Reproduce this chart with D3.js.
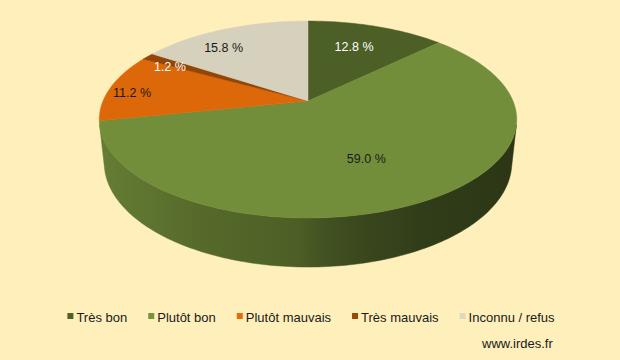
<!DOCTYPE html>
<html>
<head>
<meta charset="utf-8">
<script src="https://cdn.jsdelivr.net/npm/d3@7"></script>
<style>
  body { margin: 0; background: #ffefbb; }
  svg { display: block; }
</style>
</head>
<body>
<svg id="chart" width="620" height="360"></svg>
<script>
// data
const categories = ["Très bon", "Plutôt bon", "Plutôt mauvais", "Très mauvais", "Inconnu / refus"];
const shares = [12.8, 59.0, 11.2, 1.2, 15.8];
const colors = ["#4f6228", "#77933c", "#e46c0a", "#984807", "#ddd9c3"];
const labelColors = ["#ffffff", "#1a1a1a", "#1a1a1a", "#ffffff", "#1a1a1a"];

// where each value label sits, in pie space (degrees from top, radius fraction)
const labelAngle = [21.4, 154.8, 275.6, 298, 324];
const labelRadius = [0.69, 0.6, 0.876, 0.818, 0.784];

// side wall shading, left to right (offset, brightness)
const sideShade = [[0, 0.88], [0.24, 0.75], [0.48, 0.66], [0.52, 0.6], [0.6, 0.52], [0.77, 0.43], [1, 0.38]];

const svg = d3.select("#chart");
const width = +svg.attr("width");
const height = +svg.attr("height");

svg.append("rect").attr("width", width).attr("height", height).attr("fill", "#ffefbb");

// simple perspective camera for the 3D pie
const cx = 308, cy = 101;
const focal = 967, dist = 4.717;
const tilt = 27.6 * Math.PI / 180;
const sa = Math.sin(tilt), ca = Math.cos(tilt);
const thick = 0.241;

function proj(r, a, h) {
    const u = r * Math.sin(a), v = -r * Math.cos(a);
    const yc = v * sa + h * ca;
    const zc = dist - v * ca + h * sa;
    return [cx + focal * u / zc, cy + focal * yc / zc];
}

const pie = d3.pie().sort(null).value(d => d);
const arcs = pie(shares);
const line = d3.line();
const step = Math.PI / 180;

function shade(c, f) {
    const col = d3.rgb(c);
    return d3.rgb(col.r * f, col.g * f, col.b * f).toString();
}

function arcPoints(a0, a1, r, h) {
    const n = Math.max(2, Math.ceil(Math.abs(a1 - a0) / step));
    return d3.range(n + 1).map(k => proj(r, a0 + (a1 - a0) * k / n, h));
}

// gradients for the side wall
const leftX = proj(1, 1.5 * Math.PI, 0)[0] - 4;
const rightX = proj(1, 0.5 * Math.PI, 0)[0] + 4;
const defs = svg.append("defs");
colors.forEach((c, i) => {
    const g = defs.append("linearGradient")
        .attr("id", "side" + i)
        .attr("gradientUnits", "userSpaceOnUse")
        .attr("x1", leftX).attr("x2", rightX)
        .attr("y1", 0).attr("y2", 0);
    sideShade.forEach(s => {
        g.append("stop")
            .attr("offset", s[0])
            .attr("stop-color", shade(d3.color(c).darker(0.1), s[1]));
    });
});

// side wall: only the part facing the camera is visible
const half = Math.acos(1 / (dist * ca));
const frontStart = Math.PI - half, frontEnd = Math.PI + half;
const front = arcs.map((d, i) => ({
    i: i,
    a0: Math.max(d.startAngle, frontStart),
    a1: Math.min(d.endAngle, frontEnd)
})).filter(d => d.a1 > d.a0);

svg.append("g")
    .selectAll("path")
    .data(front)
    .enter().append("path")
    .attr("d", d => line(arcPoints(d.a0, d.a1, 1, 0).concat(arcPoints(d.a1, d.a0, 1, thick))) + "Z")
    .attr("fill", d => `url(#side${d.i})`)
    .attr("stroke", d => `url(#side${d.i})`)
    .attr("stroke-width", 0.5);

// top faces
function topPath(d) {
    const pts = [proj(0, 0, 0)].concat(arcPoints(d.startAngle, d.endAngle, 1, 0));
    return line(pts) + "Z";
}

svg.append("g")
    .selectAll("path")
    .data(arcs)
    .enter().append("path")
    .attr("d", topPath)
    .attr("fill", (d, i) => d3.color(colors[i]).darker(0.1))
    .attr("stroke", (d, i) => d3.color(colors[i]).darker(0.1))
    .attr("stroke-width", 0.5);

// value labels
svg.append("g")
    .style("font", "12.5px 'Liberation Sans', Arial, sans-serif")
    .selectAll("text")
    .data(arcs)
    .enter().append("text")
    .attr("x", (d, i) => proj(labelRadius[i], labelAngle[i] * Math.PI / 180, 0)[0])
    .attr("y", (d, i) => proj(labelRadius[i], labelAngle[i] * Math.PI / 180, 0)[1])
    .attr("dy", "0.35em")
    .attr("text-anchor", "middle")
    .attr("fill", (d, i) => labelColors[i])
    .text(d => d.data.toFixed(1) + " %");

// legend
const legend = svg.append("g")
    .style("font", "13px 'Liberation Sans', Arial, sans-serif");

const items = legend.selectAll("g")
    .data(categories)
    .enter().append("g");

items.append("rect")
    .attr("width", 6)
    .attr("height", 6)
    .attr("y", 313)
    .attr("fill", (d, i) => colors[i]);

items.append("text")
    .attr("x", 9)
    .attr("y", 322)
    .attr("fill", "#1a1a1a")
    .text(d => d);

const gap = 21;
let xpos = 0;
const offsets = [];
items.each(function() {
    const w = this.querySelector("text").getComputedTextLength();
    offsets.push(xpos);
    xpos += 9 + w + gap;
});
const total = xpos - gap;
const startX = 311 - total / 2;
items.attr("transform", (d, i) => `translate(${startX + offsets[i]},0)`);

svg.append("text")
    .attr("x", 482)
    .attr("y", 348)
    .style("font", "13px 'Liberation Sans', Arial, sans-serif")
    .attr("fill", "#1a1a1a")
    .text("www.irdes.fr");
</script>
</body>
</html>
